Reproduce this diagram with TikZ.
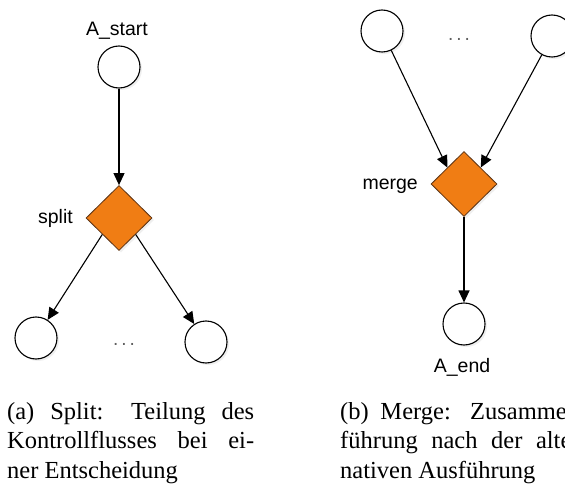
\documentclass[tikz,border=0pt]{standalone}
\usepackage{fontspec}
\setmainfont{Liberation Serif}
\setsansfont{Liberation Sans}
\usetikzlibrary{arrows.meta,shapes.geometric,shadows}

\definecolor{gwfill}{RGB}{240,125,20}
\definecolor{gwline}{RGB}{90,50,20}
\definecolor{dotgray}{RGB}{95,95,95}

\begin{document}
\begin{tikzpicture}[x=1pt,y=-1pt,
  softshadow/.style={drop shadow={opacity=0.12,shadow xshift=2pt,shadow yshift=-2pt}},
  state/.style={circle,draw=black,line width=1.1pt,fill=white,
    minimum size=42pt,inner sep=0pt,softshadow},
  gateway/.style={diamond,draw=gwline,line width=0.8pt,fill=gwfill,
    minimum width=66pt,minimum height=65pt,inner sep=0pt,softshadow},
  flow/.style={-{Triangle[length=12pt,width=11pt]},line width=1.1pt},
  lbl/.style={font=\sffamily\fontsize{19.5}{19.5}\selectfont,inner sep=0pt},
  more/.style={font=\sffamily\fontsize{19}{19}\selectfont,text=dotgray,inner sep=0pt},
  caption/.style={anchor=base west,inner sep=0pt,
    font=\rmfamily\fontsize{24.5}{29.5}\selectfont}
]
\path[use as bounding box] (0,0) rectangle (565,489);
\clip (0,0) rectangle (565,489);
\fill[white] (0,0) rectangle (565,489);

% split: one incoming flow, several outgoing flows
\node[state]   (start) at (119,67)  {};
\node[gateway] (split) at (119,218) {};
\node[state]   (outA)  at (36,338)  {};
\node[state]   (outB)  at (206,342) {};
\node[lbl,anchor=base] (startlbl) at (117,36) {A\_start};
\node[lbl,anchor=base east] (splitlbl) at (73,224) {split};
\node[more,anchor=base] (splitdots) at (124,345) {.\kern3pt.\kern3pt.};

\draw[flow] (start) -- (split.north);
\draw[flow] (split.south west) -- (outA);
\draw[flow] (split.south east) -- (outB);

% merge: several incoming flows, one outgoing flow
\node[state]   (inA)   at (382,31)  {};
\node[state]   (inB)   at (552,36)  {};
\node[gateway] (merge) at (464,184) {};
\node[state]   (fin)   at (464,324) {};
\node[lbl,anchor=base east] (mergelbl) at (418,190) {merge};
\node[lbl,anchor=base] (finlbl) at (462,372) {A\_end};
\node[more,anchor=base] (mergedots) at (459,41) {.\kern3pt.\kern3pt.};

\draw[flow] (inA) -- (merge.north west);
\draw[flow] (inB) -- (merge.north east);
\draw[flow] (merge.south) -- (fin);

% sub-captions (the right one runs past the page edge)
\node[caption] (capa) at (7,419) {\parbox[t]{247pt}{(a) Split: Teilung des\linebreak
  Kontrollflusses bei ei-\linebreak ner Entscheidung}};
\node[caption] (capb) at (340,419) {\parbox[t]{247pt}{(b) Merge: Zusammen-\linebreak
  führung nach der alter-\linebreak nativen Ausführung}};
\end{tikzpicture}
\end{document}
